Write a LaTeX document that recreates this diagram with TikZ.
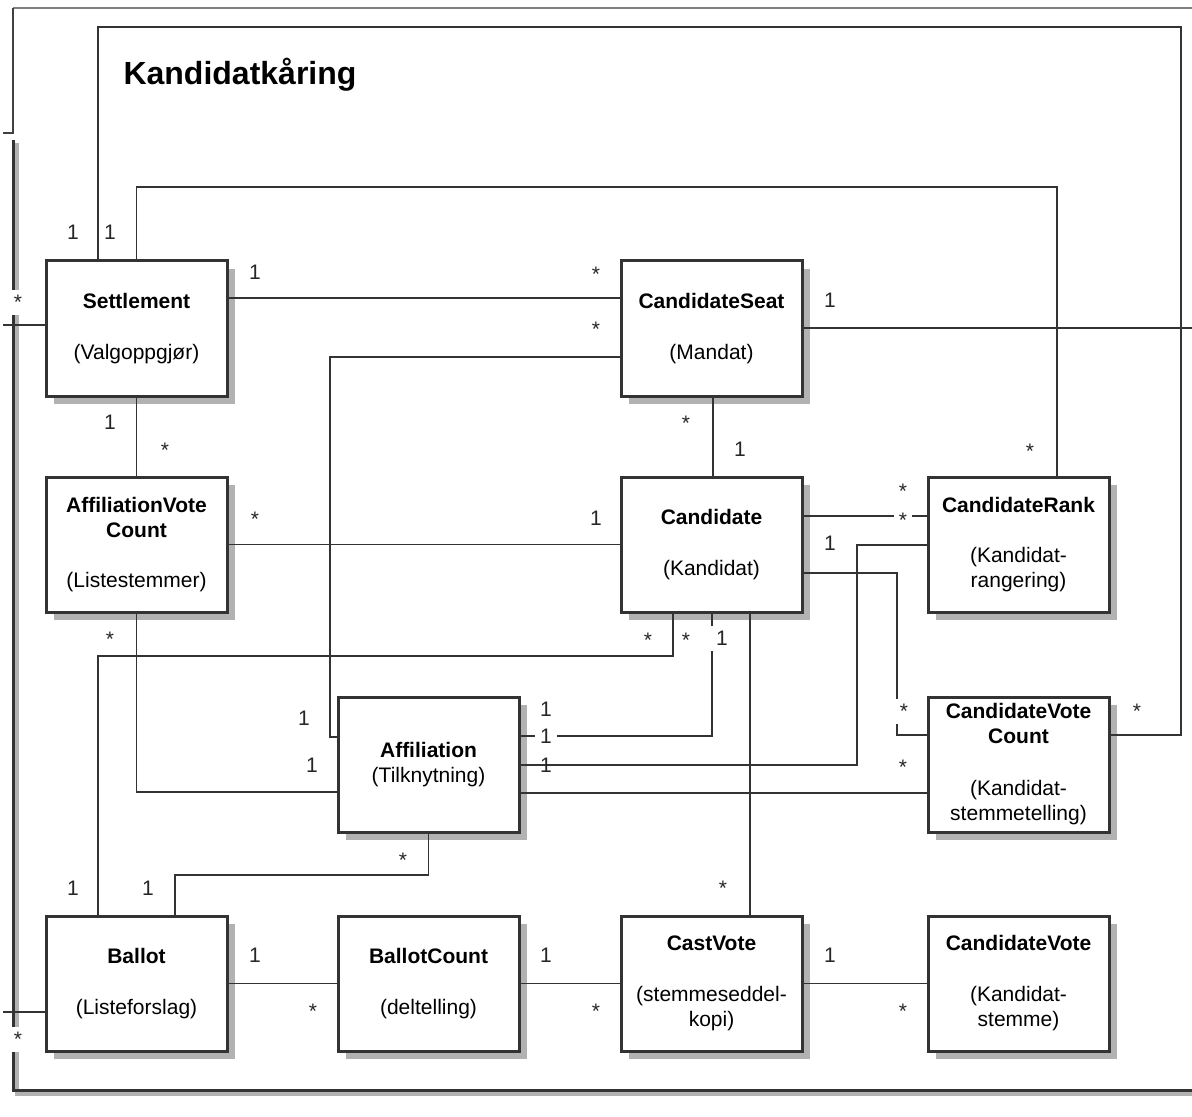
\documentclass[tikz,border=0pt]{standalone}
\usepackage{fontspec}
\setmainfont{Liberation Sans}
\usetikzlibrary{shadows}

\begin{document}
\begin{tikzpicture}[x=0.5pt, y=-0.5pt,
    classbox/.style={draw=black!80, line width=1.5pt, fill=white, minimum width=90.5pt, minimum height=67.5pt,
      inner sep=2pt, align=center, font=\fontsize{10.5}{12.5}\selectfont,
      drop shadow={shadow xshift=4pt, shadow yshift=-4pt, fill=black!30, opacity=1}},
    assoc/.style={draw=black!80, line width=0.9pt},
    mult/.style={font=\fontsize{10.5}{12}\selectfont, text=black!85, text height=7.5pt, text depth=0pt, inner sep=2.5pt},
    mstar/.style={mult, yshift=-2.2pt},
    gap/.style={fill=white}]
    \useasboundingbox (0,0) rectangle (1192,1117);

    % Draw the outer frame and the line coming in from above
    \draw[black!50, line width=1.4pt] (1192,8) -- (13,8);
    \draw[black!75, line width=1pt] (13,8) -- (13,133) -- (3,133);
    \draw[black!30, line width=2.2pt] (17,143) -- (17,1094) -- (1192,1094);
    \draw[black!80, line width=1.5pt] (13,140) -- (13,1090) -- (1192,1090);

    % Package title
    \node[font=\bfseries\fontsize{16}{18}\selectfont] (title) at (240,75) {Kandidatkåring};

    % Draw the classes, row by row
    \node[classbox] (settle) at (136.5,328.5) {\textbf{Settlement}\\[13pt](Valgoppgjør)};
    \node[classbox] (seat) at (711.5,328.5) {\textbf{CandidateSeat}\\[13pt](Mandat)};

    \node[classbox] (avc) at (136.5,544.5) {\textbf{AffiliationVote}\\\textbf{Count}\\[12.5pt](Listestemmer)};
    \node[classbox] (cand) at (711.5,544.5) {\textbf{Candidate}\\[13pt](Kandidat)};
    \node[classbox] (rank) at (1018.5,544.5) {\textbf{CandidateRank}\\[12.5pt](Kandidat-\\rangering)};

    \node[classbox] (affil) at (428.5,764.5) {\textbf{Affiliation}\\(Tilknytning)};
    \node[classbox] (cvc) at (1018.5,764.5) {\textbf{CandidateVote}\\\textbf{Count}\\[13.5pt](Kandidat-\\stemmetelling)};

    \node[classbox] (ballot) at (136.5,983.5) {\textbf{Ballot}\\[13pt](Listeforslag)};
    \node[classbox] (bcount) at (428.5,983.5) {\textbf{BallotCount}\\[13pt](deltelling)};
    \node[classbox] (cast) at (711.5,983.5) {\textbf{CastVote}\\[13pt](stemmeseddel-\\kopi)};
    \node[classbox] (cvote) at (1018.5,983.5) {\textbf{CandidateVote}\\[13pt](Kandidat-\\stemme)};

    % Free ends of the lines that leave the picture
    \coordinate (outR) at (1192,328);
    \coordinate (outL1) at (3,325);
    \coordinate (outL2) at (3,1012);

    % Associations around Settlement
    \draw[assoc] (settle.east |- 0,298) -- (seat.west |- 0,298);
    \draw[assoc] (settle.south) -- (avc.north);
    \draw[assoc] (settle.west |- 0,325) -- (outL1);
    \draw[assoc] (settle.north) |- (1057,187) -- (rank.north -| 1057,0);
    \draw[assoc] (cvc.east |- 0,735) -| (1181,27) -| (settle.north -| 98,0);

    % Associations around CandidateSeat and Candidate
    \draw[assoc] (seat.west |- 0,357) -| (330,737) -- (affil.west |- 0,737);
    \draw[assoc] (seat.east |- 0,328) -- (outR);
    \draw[assoc] (seat.south -| 713,0) -- (cand.north -| 713,0);
    \draw[assoc] (avc.east) -- (cand.west);
    \draw[assoc] (cand.east |- 0,516) -- (rank.west |- 0,516);
    \draw[assoc] (cand.east |- 0,573) -| (897,735) -- (cvc.west |- 0,735);
    \draw[assoc] (rank.west |- 0,545) -| (857,765) -- (affil.east |- 0,765);
    \draw[assoc] (cand.south -| 673,0) |- (98,656) -- (ballot.north -| 98,0);
    \draw[assoc] (cand.south -| 712,0) |- (affil.east |- 0,736);
    \draw[assoc] (cand.south -| 750,0) -- (cast.north -| 750,0);

    % Associations around Affiliation
    \draw[assoc] (avc.south) |- (affil.west |- 0,792);
    \draw[assoc] (affil.east |- 0,793) -- (cvc.west |- 0,793);
    \draw[assoc] (affil.south) |- (175,875) -- (ballot.north -| 175,0);

    % Bottom row
    \draw[assoc] (ballot.west |- 0,1012) -- (outL2);
    \draw[assoc] (ballot.east) -- (bcount.west);
    \draw[assoc] (bcount.east) -- (cast.west);
    \draw[assoc] (cast.east) -- (cvote.west);

    % Multiplicities
    \node[mult] (m1) at (73,232) {1};
    \node[mult] (m2) at (110,232) {1};
    \node[mult] (m3) at (255,272) {1};
    \node[mstar] (m4) at (596,270) {*};
    \node[mstar] (m5) at (596,325) {*};
    \node[mult] (m6) at (830,300) {1};
    \node[mstar, gap] (m7) at (18,298) {*};
    \node[mult] (m8) at (110,422) {1};
    \node[mstar] (m9) at (165,446) {*};
    \node[mstar] (m10) at (686,419) {*};
    \node[mult] (m11) at (740,449) {1};
    \node[mstar] (m12) at (1030,447) {*};
    \node[mstar] (m13) at (255,515) {*};
    \node[mult] (m14) at (596,518) {1};
    \node[mstar] (m15) at (903,487) {*};
    \node[mstar, gap] (m16) at (903,516) {*};
    \node[mult] (m17) at (830,543) {1};
    \node[mstar] (m18) at (110,635) {*};
    \node[mstar] (m19) at (648,636) {*};
    \node[mstar] (m20) at (686,636) {*};
    \node[mult, gap] (m21) at (722,638) {1};
    \node[mult] (m22) at (304,718) {1};
    \node[mult] (m23) at (312,765) {1};
    \node[mult] (m24) at (546,709) {1};
    \node[mult, gap] (m25) at (546,736) {1};
    \node[mult] (m26) at (546,765) {1};
    \node[mstar, gap] (m27) at (904,707) {*};
    \node[mstar] (m28) at (1137,707) {*};
    \node[mstar] (m29) at (903,763) {*};
    \node[mstar] (m30) at (403,856) {*};
    \node[mult] (m31) at (73,888) {1};
    \node[mult] (m32) at (148,888) {1};
    \node[mstar] (m33) at (723,884) {*};
    \node[mult] (m34) at (255,955) {1};
    \node[mstar] (m35) at (313,1007) {*};
    \node[mult] (m36) at (546,955) {1};
    \node[mstar] (m37) at (596,1007) {*};
    \node[mult] (m38) at (830,955) {1};
    \node[mstar] (m39) at (903,1007) {*};
    \node[mstar, gap] (m40) at (18,1035) {*};
\end{tikzpicture}
\end{document}
